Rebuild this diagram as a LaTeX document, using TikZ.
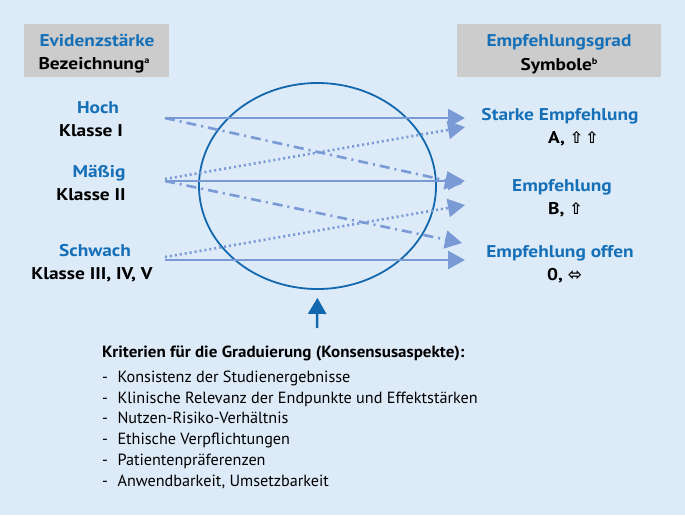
\documentclass[tikz,border=0pt]{standalone}
\usepackage{fontspec}
\setmainfont{PT Sans}
\newfontfamily\widesans{PT Sans}[FakeStretch=1.14]
\newfontfamily\critsans{PT Sans}[FakeStretch=1.05]
\newfontfamily\symfont{DejaVu Sans}
\usepackage{tikz}
\usetikzlibrary{arrows.meta}
\usetikzlibrary{matrix}
\usetikzlibrary{shapes.geometric}
\definecolor{bgblue}{RGB}{221,234,248}
\definecolor{hdgray}{RGB}{204,204,204}
\definecolor{txtblue}{RGB}{22,112,184}
\definecolor{arrblue}{RGB}{122,154,214}
\definecolor{ringblue}{RGB}{18,104,174}
\newcommand\hdfont{\widesans\fontsize{17}{20}\selectfont\bfseries}
\newcommand\lblfont{\widesans\fontsize{17}{20}\selectfont\bfseries}
\newcommand\critfont{\fontsize{16.2}{19}\selectfont}
\newcommand\crittitlefont{\critsans\fontsize{16.2}{19}\selectfont\bfseries}
\newcommand\up{{\symfont\fontsize{16}{18}\selectfont\char"21E7}}
\newcommand\lr{{\symfont\fontsize{17}{18}\selectfont\char"2B04}}
\newcommand\fnmark[1]{\raisebox{6pt}{\fontsize{9}{9}\selectfont #1}}
\tikzstyle{hdbox}=[fill=hdgray,minimum height=53pt,inner sep=0pt]
\tikzstyle{hdtitle}=[anchor=base,inner sep=0pt,text=txtblue,font=\hdfont]
\tikzstyle{hdsub}=[anchor=base,inner sep=0pt,text=black,font=\hdfont]
\tikzstyle{lvl}=[anchor=base,inner sep=0pt,text=txtblue,font=\lblfont]
\tikzstyle{cls}=[anchor=base,inner sep=0pt,text=black,font=\lblfont]
\tikzstyle{sym}=[anchor=base west,inner sep=0pt,text=black,font=\lblfont]
\tikzstyle{gradhead}=[>/.tip={Triangle[length=17pt,width=18pt]}]
\tikzstyle{grad}=[line width=2.6pt,draw=arrblue,gradhead,->]
\tikzstyle{gradsolid}=[grad]
\tikzstyle{graddot}=[grad,dash pattern=on 2pt off 3pt]
\tikzstyle{graddashdot}=[grad,dash pattern=on 10pt off 5pt on 2pt off 5pt]
\tikzstyle{ring}=[draw=ringblue,line width=1.8pt,ellipse,inner sep=0pt,minimum width=237pt,minimum height=206pt]
\tikzstyle{critarrow}=[line width=2.5pt,draw=ringblue,>/.tip={Triangle[length=16pt,width=18pt]},->,shorten >=8pt]
\begin{document}
\begin{tikzpicture}[x=1pt,y=-1pt]
	\fill[bgblue] (0,0) rectangle (685,515);
	\useasboundingbox (0,0) rectangle (685,515);
	% headers
	\node[hdbox,minimum width=145pt] (evbox) at (96.5,50.5) {};
	\node[hdbox,minimum width=204pt] (egbox) at (559,50.5) {};
	\node[hdtitle] (evid) at (97,46) {Evidenzstärke};
	\node[hdsub]   (bez)  at (94,69) {Bezeichnung\fnmark{a}};
	\node[hdtitle] (empf) at (559,46) {Empfehlungsgrad};
	\node[hdsub]   (symb) at (559,70) {Symbole\fnmark{b}};
	% evidence levels
	\node[lvl] (hoch)    at (98,113)  {Hoch};
	\node[cls] (kl1)     at (91,136)  {Klasse I};
	\node[lvl] (maessig) at (99,177)  {Mäßig};
	\node[cls] (kl2)     at (91,200)  {Klasse II};
	\node[lvl] (schwach) at (95,256)  {Schwach};
	\node[cls] (kl3)     at (92,279)  {Klasse III, IV, V};
	% grades
	\node[lvl] (starke)  at (560,120) {Starke Empfehlung};
	\node[sym] (symA)    at (548,143) {A, \up\kern2pt\up};
	\node[lvl] (empfB)   at (562,191) {Empfehlung};
	\node[sym] (symB)    at (548,214) {B, \up};
	\node[lvl] (offen)   at (560,257) {Empfehlung offen};
	\node[sym] (sym0)    at (547,280) {0, \lr};
	% arrow ends
	\coordinate (hoch-src)    at (165,118);
	\coordinate (maessig-src) at (165,181);
	\coordinate (maessig-dot) at (165,179);
	\coordinate (schwach-src) at (165,260);
	\coordinate (schwach-dot) at (165,257);
	\coordinate (starke-in)   at (465,118);
	\coordinate (starke-dot)  at (465,127);
	\coordinate (empfB-in)    at (465,181);
	\coordinate (empfB-dd)    at (462,184);
	\coordinate (empfB-dot)   at (465,205);
	\coordinate (offen-dd)    at (462,243);
	\coordinate (offen-in)    at (465,260);
	\node[ring] (ring) at (317.5,186) {};
	\draw[gradsolid]   (hoch-src)    -- (starke-in);
	\draw[graddashdot] (hoch-src)    -- (empfB-dd);
	\draw[gradsolid]   (maessig-src) -- (empfB-in);
	\draw[graddot]     (maessig-dot) -- (starke-dot);
	\draw[graddashdot] (maessig-src) -- (offen-dd);
	\draw[graddot]     (schwach-dot) -- (empfB-dot);
	\draw[gradsolid]   (schwach-src) -- (offen-in);
	% criteria
	\coordinate (crit-src) at (317,328);
	\draw[critarrow] (crit-src) -- (ring.south);
	\node[anchor=base west,inner sep=0pt,font=\crittitlefont] (crittitle) at (102,357.5)
	  {Kriterien für die Graduierung (Konsensusaspekte):};
	\matrix [matrix of nodes,anchor=north west,inner sep=0pt,row sep=5.3pt,column sep=9.5pt,
	  nodes={inner sep=0pt,anchor=base west,text height=12pt,text depth=3.5pt,font=\critfont}] (crit) at (102,370) {
	  - & Konsistenz der Studienergebnisse \\
	  - & Klinische Relevanz der Endpunkte und Effektstärken \\
	  - & Nutzen-Risiko-Verhältnis \\
	  - & Ethische Verpflichtungen \\
	  - & Patientenpräferenzen \\
	  - & Anwendbarkeit, Umsetzbarkeit \\
	};
\end{tikzpicture}
\end{document}
